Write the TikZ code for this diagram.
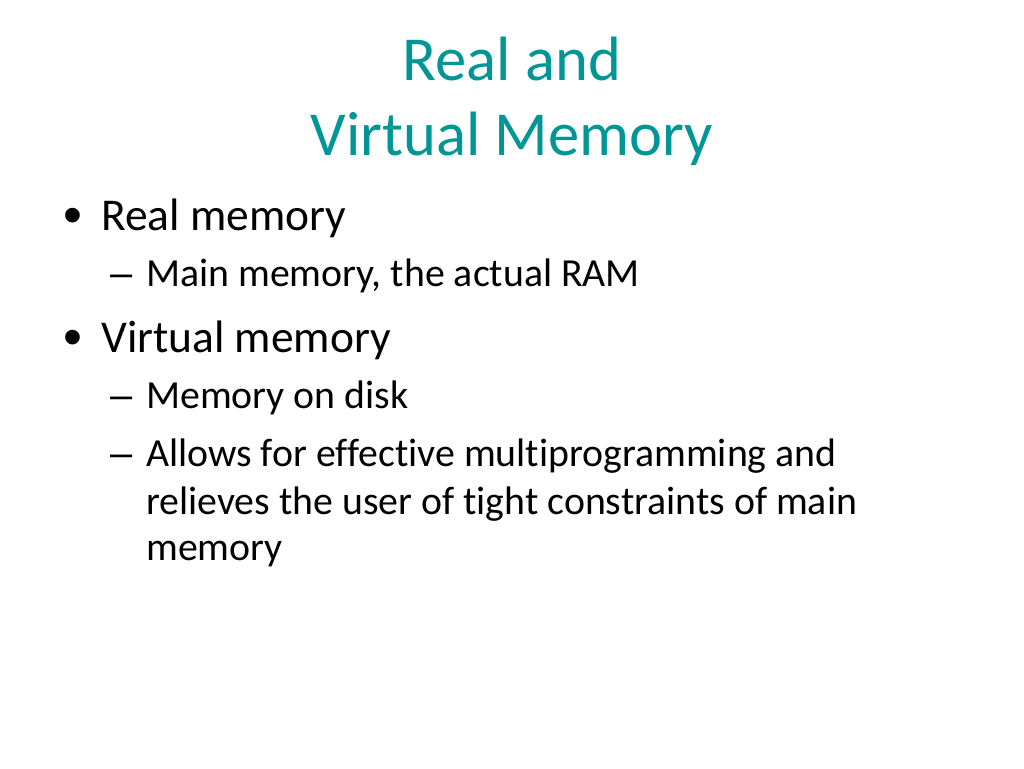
\documentclass[tikz,border=0pt]{standalone}
\usepackage{fontspec}
\setmainfont[Ligatures = NoCommon]{Carlito}
\newfontfamily\markfont{Liberation Sans}
\definecolor{slideTeal}{RGB}{0,150,150}
\tikzstyle{titleStyle}=[anchor = base, inner sep = 0pt, text = slideTeal, font = \fontsize{62.6}{70}\selectfont]
\tikzstyle{bulletStyle}=[anchor = base west, inner sep = 0pt, font = \fontsize{45.5}{52}\selectfont]
\tikzstyle{subStyle}=[anchor = base west, inner sep = 0pt, font = \fontsize{39.8}{46}\selectfont]
\tikzstyle{dotStyle}=[anchor = base west, inner sep = 0pt, font = \markfont\fontsize{54}{60}\selectfont]
\begin{document}
\begin{tikzpicture}[x = 1pt, y = -1pt]
\useasboundingbox (0,0) rectangle (1024,768);
\node[titleStyle] (t1) at (512,80) {Real and};
\node[titleStyle] (t2) at (512,155) {Virtual Memory};
\node[dotStyle] (m1) at (63,233) {•};
\node[bulletStyle] (b1) at (101,230) {Real memory};
\node[subStyle] (m2) at (110,286) {\markfont –};
\node[subStyle] (s1) at (146,286) {Main memory, the actual RAM};
\node[dotStyle] (m3) at (63,355) {•};
\node[bulletStyle] (b2) at (101,352) {Virtual memory};
\node[subStyle] (m4) at (110,408) {\markfont –};
\node[subStyle] (s2) at (146,408) {Memory on disk};
\node[subStyle] (m5) at (110,466) {\markfont –};
\node[subStyle] (s3) at (146,466) {Allows for effective multiprogramming and};
\node[subStyle] (s4) at (146,514) {relieves the user of tight constraints of main};
\node[subStyle] (s5) at (146,560) {memory};
\end{tikzpicture}
\end{document}
